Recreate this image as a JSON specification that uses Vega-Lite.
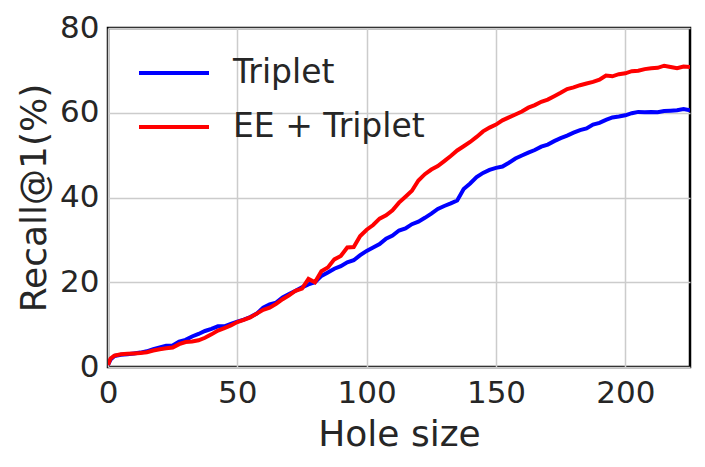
{
  "$schema": "https://vega.github.io/schema/vega-lite/v6.json",
  "autosize": {"type": "none"},
  "padding": {"left": 108, "top": 28, "right": 15, "bottom": 100},
  "width": 582,
  "height": 339,
  "background": "white",
  "config": {
    "font": "DejaVu Sans",
    "view": {"stroke": "black", "strokeWidth": 2.5},
    "axis": {
      "labelFont": "DejaVu Sans",
      "titleFont": "DejaVu Sans",
      "labelColor": "#262626",
      "titleColor": "#262626",
      "labelFontSize": 31,
      "titleFontSize": 36,
      "titleFontWeight": "normal",
      "ticks": false,
      "domain": false,
      "grid": true,
      "gridColor": "#cccccc",
      "gridWidth": 1.5
    },
    "legend": {
      "labelFont": "DejaVu Sans",
      "labelColor": "#262626"
    }
  },
  "data": {
    "values": [
      {"x": 0, "y": 0.5, "s": "Triplet"},
      {"x": 1, "y": 1.8, "s": "Triplet"},
      {"x": 2.5, "y": 2.6, "s": "Triplet"},
      {"x": 5, "y": 2.9, "s": "Triplet"},
      {"x": 7.5, "y": 3.0, "s": "Triplet"},
      {"x": 10, "y": 3.2, "s": "Triplet"},
      {"x": 12.5, "y": 3.4, "s": "Triplet"},
      {"x": 15, "y": 3.7, "s": "Triplet"},
      {"x": 17.5, "y": 4.2, "s": "Triplet"},
      {"x": 20, "y": 4.6, "s": "Triplet"},
      {"x": 22.5, "y": 5.0, "s": "Triplet"},
      {"x": 25, "y": 5.1, "s": "Triplet"},
      {"x": 27.5, "y": 6.0, "s": "Triplet"},
      {"x": 30, "y": 6.4, "s": "Triplet"},
      {"x": 32.5, "y": 7.2, "s": "Triplet"},
      {"x": 35, "y": 7.8, "s": "Triplet"},
      {"x": 37.5, "y": 8.5, "s": "Triplet"},
      {"x": 40, "y": 9.0, "s": "Triplet"},
      {"x": 42.5, "y": 9.6, "s": "Triplet"},
      {"x": 45, "y": 9.6, "s": "Triplet"},
      {"x": 47.5, "y": 10.2, "s": "Triplet"},
      {"x": 50, "y": 10.7, "s": "Triplet"},
      {"x": 52.5, "y": 11.2, "s": "Triplet"},
      {"x": 55, "y": 11.8, "s": "Triplet"},
      {"x": 57.5, "y": 12.6, "s": "Triplet"},
      {"x": 60, "y": 14.0, "s": "Triplet"},
      {"x": 62.5, "y": 14.8, "s": "Triplet"},
      {"x": 65, "y": 15.2, "s": "Triplet"},
      {"x": 67.5, "y": 16.4, "s": "Triplet"},
      {"x": 70, "y": 17.2, "s": "Triplet"},
      {"x": 72.5, "y": 18.0, "s": "Triplet"},
      {"x": 75, "y": 18.8, "s": "Triplet"},
      {"x": 77.5, "y": 19.5, "s": "Triplet"},
      {"x": 80, "y": 20.0, "s": "Triplet"},
      {"x": 82.5, "y": 21.5, "s": "Triplet"},
      {"x": 85, "y": 22.3, "s": "Triplet"},
      {"x": 87.5, "y": 23.2, "s": "Triplet"},
      {"x": 90, "y": 23.8, "s": "Triplet"},
      {"x": 92.5, "y": 24.7, "s": "Triplet"},
      {"x": 95, "y": 25.2, "s": "Triplet"},
      {"x": 97.5, "y": 26.4, "s": "Triplet"},
      {"x": 100, "y": 27.4, "s": "Triplet"},
      {"x": 102.5, "y": 28.2, "s": "Triplet"},
      {"x": 105, "y": 29.0, "s": "Triplet"},
      {"x": 107.5, "y": 30.3, "s": "Triplet"},
      {"x": 110, "y": 31.0, "s": "Triplet"},
      {"x": 112.5, "y": 32.2, "s": "Triplet"},
      {"x": 115, "y": 32.7, "s": "Triplet"},
      {"x": 117.5, "y": 33.7, "s": "Triplet"},
      {"x": 120, "y": 34.3, "s": "Triplet"},
      {"x": 122.5, "y": 35.2, "s": "Triplet"},
      {"x": 125, "y": 36.2, "s": "Triplet"},
      {"x": 127.5, "y": 37.3, "s": "Triplet"},
      {"x": 130, "y": 38.0, "s": "Triplet"},
      {"x": 132.5, "y": 38.6, "s": "Triplet"},
      {"x": 135, "y": 39.3, "s": "Triplet"},
      {"x": 137.5, "y": 42.0, "s": "Triplet"},
      {"x": 140, "y": 43.3, "s": "Triplet"},
      {"x": 142.5, "y": 44.8, "s": "Triplet"},
      {"x": 145, "y": 45.8, "s": "Triplet"},
      {"x": 147.5, "y": 46.5, "s": "Triplet"},
      {"x": 150, "y": 47.0, "s": "Triplet"},
      {"x": 152.5, "y": 47.3, "s": "Triplet"},
      {"x": 155, "y": 48.2, "s": "Triplet"},
      {"x": 157.5, "y": 49.2, "s": "Triplet"},
      {"x": 160, "y": 49.9, "s": "Triplet"},
      {"x": 162.5, "y": 50.6, "s": "Triplet"},
      {"x": 165, "y": 51.2, "s": "Triplet"},
      {"x": 167.5, "y": 52.0, "s": "Triplet"},
      {"x": 170, "y": 52.5, "s": "Triplet"},
      {"x": 172.5, "y": 53.3, "s": "Triplet"},
      {"x": 175, "y": 54.0, "s": "Triplet"},
      {"x": 177.5, "y": 54.6, "s": "Triplet"},
      {"x": 180, "y": 55.3, "s": "Triplet"},
      {"x": 182.5, "y": 55.9, "s": "Triplet"},
      {"x": 185, "y": 56.3, "s": "Triplet"},
      {"x": 187.5, "y": 57.2, "s": "Triplet"},
      {"x": 190, "y": 57.6, "s": "Triplet"},
      {"x": 192.5, "y": 58.3, "s": "Triplet"},
      {"x": 195, "y": 58.9, "s": "Triplet"},
      {"x": 197.5, "y": 59.1, "s": "Triplet"},
      {"x": 200, "y": 59.4, "s": "Triplet"},
      {"x": 202.5, "y": 59.9, "s": "Triplet"},
      {"x": 205, "y": 60.2, "s": "Triplet"},
      {"x": 207.5, "y": 60.1, "s": "Triplet"},
      {"x": 210, "y": 60.2, "s": "Triplet"},
      {"x": 212.5, "y": 60.1, "s": "Triplet"},
      {"x": 215, "y": 60.4, "s": "Triplet"},
      {"x": 217.5, "y": 60.5, "s": "Triplet"},
      {"x": 220, "y": 60.6, "s": "Triplet"},
      {"x": 222.5, "y": 60.9, "s": "Triplet"},
      {"x": 225, "y": 60.6, "s": "Triplet"},
      {"x": 0, "y": 0.5, "s": "EE + Triplet"},
      {"x": 1, "y": 2.0, "s": "EE + Triplet"},
      {"x": 2.5, "y": 2.7, "s": "EE + Triplet"},
      {"x": 5, "y": 3.0, "s": "EE + Triplet"},
      {"x": 7.5, "y": 3.1, "s": "EE + Triplet"},
      {"x": 10, "y": 3.2, "s": "EE + Triplet"},
      {"x": 12.5, "y": 3.3, "s": "EE + Triplet"},
      {"x": 15, "y": 3.5, "s": "EE + Triplet"},
      {"x": 17.5, "y": 3.9, "s": "EE + Triplet"},
      {"x": 20, "y": 4.2, "s": "EE + Triplet"},
      {"x": 22.5, "y": 4.4, "s": "EE + Triplet"},
      {"x": 25, "y": 4.6, "s": "EE + Triplet"},
      {"x": 27.5, "y": 5.4, "s": "EE + Triplet"},
      {"x": 30, "y": 5.9, "s": "EE + Triplet"},
      {"x": 32.5, "y": 6.0, "s": "EE + Triplet"},
      {"x": 35, "y": 6.3, "s": "EE + Triplet"},
      {"x": 37.5, "y": 6.9, "s": "EE + Triplet"},
      {"x": 40, "y": 7.7, "s": "EE + Triplet"},
      {"x": 42.5, "y": 8.6, "s": "EE + Triplet"},
      {"x": 45, "y": 9.2, "s": "EE + Triplet"},
      {"x": 47.5, "y": 9.8, "s": "EE + Triplet"},
      {"x": 50, "y": 10.6, "s": "EE + Triplet"},
      {"x": 52.5, "y": 11.1, "s": "EE + Triplet"},
      {"x": 55, "y": 11.7, "s": "EE + Triplet"},
      {"x": 57.5, "y": 12.6, "s": "EE + Triplet"},
      {"x": 60, "y": 13.5, "s": "EE + Triplet"},
      {"x": 62.5, "y": 14.0, "s": "EE + Triplet"},
      {"x": 65, "y": 14.9, "s": "EE + Triplet"},
      {"x": 67.5, "y": 16.0, "s": "EE + Triplet"},
      {"x": 70, "y": 16.9, "s": "EE + Triplet"},
      {"x": 72.5, "y": 18.0, "s": "EE + Triplet"},
      {"x": 75, "y": 18.5, "s": "EE + Triplet"},
      {"x": 77.5, "y": 20.8, "s": "EE + Triplet"},
      {"x": 80, "y": 20.0, "s": "EE + Triplet"},
      {"x": 82.5, "y": 22.6, "s": "EE + Triplet"},
      {"x": 85, "y": 23.5, "s": "EE + Triplet"},
      {"x": 87.5, "y": 25.4, "s": "EE + Triplet"},
      {"x": 90, "y": 26.2, "s": "EE + Triplet"},
      {"x": 92.5, "y": 28.2, "s": "EE + Triplet"},
      {"x": 95, "y": 28.3, "s": "EE + Triplet"},
      {"x": 97.5, "y": 30.9, "s": "EE + Triplet"},
      {"x": 100, "y": 32.4, "s": "EE + Triplet"},
      {"x": 102.5, "y": 33.5, "s": "EE + Triplet"},
      {"x": 105, "y": 35.0, "s": "EE + Triplet"},
      {"x": 107.5, "y": 35.8, "s": "EE + Triplet"},
      {"x": 110, "y": 37.0, "s": "EE + Triplet"},
      {"x": 112.5, "y": 38.8, "s": "EE + Triplet"},
      {"x": 115, "y": 40.2, "s": "EE + Triplet"},
      {"x": 117.5, "y": 41.6, "s": "EE + Triplet"},
      {"x": 120, "y": 44.0, "s": "EE + Triplet"},
      {"x": 122.5, "y": 45.5, "s": "EE + Triplet"},
      {"x": 125, "y": 46.6, "s": "EE + Triplet"},
      {"x": 127.5, "y": 47.4, "s": "EE + Triplet"},
      {"x": 130, "y": 48.6, "s": "EE + Triplet"},
      {"x": 132.5, "y": 49.8, "s": "EE + Triplet"},
      {"x": 135, "y": 51.1, "s": "EE + Triplet"},
      {"x": 137.5, "y": 52.1, "s": "EE + Triplet"},
      {"x": 140, "y": 53.1, "s": "EE + Triplet"},
      {"x": 142.5, "y": 54.3, "s": "EE + Triplet"},
      {"x": 145, "y": 55.6, "s": "EE + Triplet"},
      {"x": 147.5, "y": 56.5, "s": "EE + Triplet"},
      {"x": 150, "y": 57.2, "s": "EE + Triplet"},
      {"x": 152.5, "y": 58.2, "s": "EE + Triplet"},
      {"x": 155, "y": 58.9, "s": "EE + Triplet"},
      {"x": 157.5, "y": 59.6, "s": "EE + Triplet"},
      {"x": 160, "y": 60.3, "s": "EE + Triplet"},
      {"x": 162.5, "y": 61.2, "s": "EE + Triplet"},
      {"x": 165, "y": 61.8, "s": "EE + Triplet"},
      {"x": 167.5, "y": 62.6, "s": "EE + Triplet"},
      {"x": 170, "y": 63.1, "s": "EE + Triplet"},
      {"x": 172.5, "y": 63.9, "s": "EE + Triplet"},
      {"x": 175, "y": 64.7, "s": "EE + Triplet"},
      {"x": 177.5, "y": 65.6, "s": "EE + Triplet"},
      {"x": 180, "y": 66.0, "s": "EE + Triplet"},
      {"x": 182.5, "y": 66.5, "s": "EE + Triplet"},
      {"x": 185, "y": 66.9, "s": "EE + Triplet"},
      {"x": 187.5, "y": 67.3, "s": "EE + Triplet"},
      {"x": 190, "y": 67.8, "s": "EE + Triplet"},
      {"x": 192.5, "y": 68.8, "s": "EE + Triplet"},
      {"x": 195, "y": 68.6, "s": "EE + Triplet"},
      {"x": 197.5, "y": 69.1, "s": "EE + Triplet"},
      {"x": 200, "y": 69.3, "s": "EE + Triplet"},
      {"x": 202.5, "y": 69.8, "s": "EE + Triplet"},
      {"x": 205, "y": 69.9, "s": "EE + Triplet"},
      {"x": 207.5, "y": 70.3, "s": "EE + Triplet"},
      {"x": 210, "y": 70.5, "s": "EE + Triplet"},
      {"x": 212.5, "y": 70.6, "s": "EE + Triplet"},
      {"x": 215, "y": 71.1, "s": "EE + Triplet"},
      {"x": 217.5, "y": 70.8, "s": "EE + Triplet"},
      {"x": 220, "y": 70.5, "s": "EE + Triplet"},
      {"x": 222.5, "y": 70.9, "s": "EE + Triplet"},
      {"x": 225, "y": 70.8, "s": "EE + Triplet"}
    ]
  },
  "mark": {"type": "line", "strokeWidth": 4, "clip": true},
  "encoding": {
    "x": {
      "field": "x",
      "type": "quantitative",
      "title": "Hole size",
      "scale": {"domain": [0, 225], "nice": false, "zero": false},
      "axis": {"values": [0, 50, 100, 150, 200], "labelPadding": 11, "titlePadding": 9, "labelFlush": false}
    },
    "y": {
      "field": "y",
      "type": "quantitative",
      "title": "Recall@1(%)",
      "scale": {"domain": [0, 80], "nice": false},
      "axis": {"values": [0, 20, 40, 60, 80], "labelPadding": 9, "titlePadding": 6}
    },
    "color": {
      "field": "s",
      "type": "nominal",
      "sort": ["Triplet", "EE + Triplet"],
      "scale": {"domain": ["Triplet", "EE + Triplet"], "range": ["#0000ff", "#ff0000"]},
      "legend": {
        "title": null,
        "orient": "none",
        "legendX": 29,
        "legendY": 8,
        "padding": 0,
        "symbolType": "stroke",
        "symbolSize": 4900,
        "symbolStrokeWidth": 4,
        "labelFontSize": 33,
        "labelOffset": 22,
        "rowPadding": -24,
        "labelLimit": 400
      }
    }
  }
}
